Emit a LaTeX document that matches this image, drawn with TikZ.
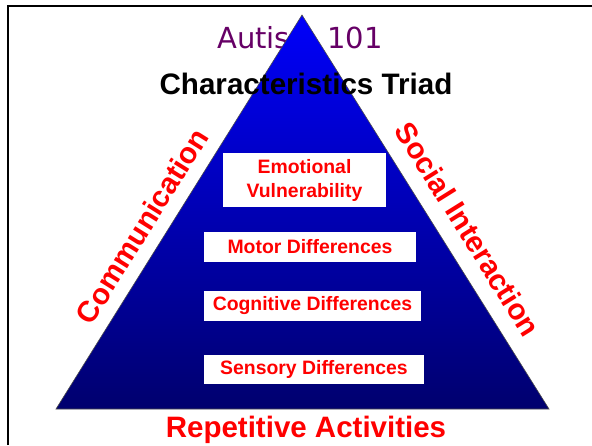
\documentclass[tikz,border=0pt]{standalone}
\usepackage{fontspec}
\setmainfont{Liberation Sans}
\newfontfamily\titlefont{DejaVu Sans}
\usepackage{xcolor}
\usetikzlibrary{positioning}
\definecolor{titlepurple}{RGB}{102,0,102}
\definecolor{pyrtop}{RGB}{0,0,250}
\definecolor{pyrbottom}{RGB}{0,0,110}

\begin{document}
\begin{tikzpicture}[x=1pt,y=-1pt,
	side/.style={text=red, inner sep=0pt, font=\fontsize{29.5}{31}\selectfont\bfseries},
	trait/.style={fill=white, text=red, inner sep=0pt, align=center,
		font=\fontsize{19.4}{24}\selectfont\bfseries},
	frame/.style={line width=2.2}]

\useasboundingbox (0,0) rectangle (592,445);

% slide frame (only top and left edges show)
\draw[frame] (8,445) -- (8,6) -- (592,6);

\node[anchor=base, text=titlepurple, inner sep=0pt,
	font=\titlefont\fontsize{29}{31}\selectfont] (title) at (300,48) {Autism 101};

% the pyramid
\coordinate (apex) at (302,15);
\coordinate (right) at (549,409);
\coordinate (left) at (56,409);
\shadedraw[top color=pyrtop, bottom color=pyrbottom, draw=black!70, line width=0.6]
	(apex) -- (right) -- (left) -- cycle;

\node[anchor=base, inner sep=0pt, font=\fontsize{29.6}{31}\selectfont\bfseries]
	(triad) at (306,94) {Characteristics Triad};

\node[trait, minimum width=163, minimum height=54] (emo) at (304.5,180) {Emotional\\Vulnerability};
\node[trait, minimum width=212, minimum height=30] (motor) at (310,247) {Motor Differences};
\node[trait, minimum width=217, minimum height=30] (cog) at (312.5,306) {Cognitive Differences};
\node[trait, minimum width=220, minimum height=29] (sens) at (314,369.5) {Sensory Differences};

\node[side, rotate=58] (comm) at (142,226) {Communication};
\node[side, rotate=-58] (social) at (468,229) {Social Interaction};
\node[side, anchor=base] (rep) at (306,437) {Repetitive Activities};

\end{tikzpicture}
\end{document}
